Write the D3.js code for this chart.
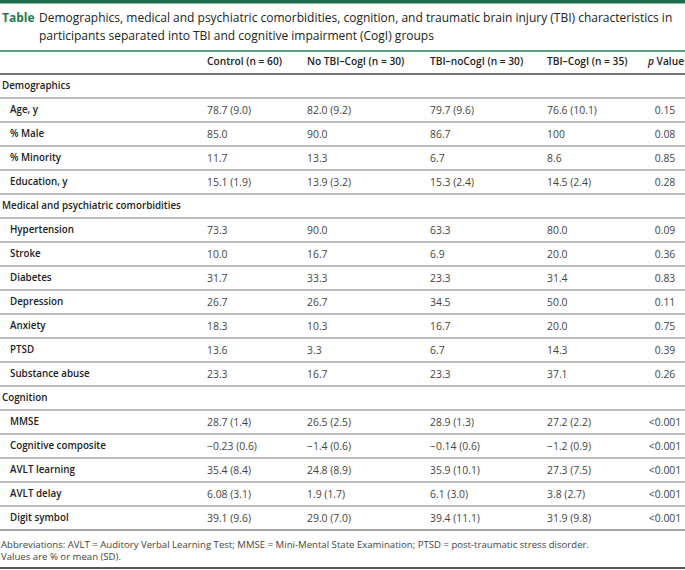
<!DOCTYPE html>
<html>
<head>
<meta charset="utf-8">
<script src="https://cdn.jsdelivr.net/npm/d3@7"></script>
<style>
  body { margin: 0; background: #fff; }
  text { font-family: "Open Sans", "Noto Sans", sans-serif; }
</style>
</head>
<body>
<div id="canvas"></div>
<script>
// table content
const titleLines = [
  "Demographics, medical and psychiatric comorbidities, cognition, and traumatic brain injury (TBI) characteristics in",
  "participants separated into TBI and cognitive impairment (CogI) groups"
];
const columns = ["Control (n = 60)", "No TBI–CogI (n = 30)", "TBI–noCogI (n = 30)", "TBI–CogI (n = 35)"];
const sections = ["Demographics", "Medical and psychiatric comorbidities", "Cognition"];
const rowLabels = [
  ["Age, y", "% Male", "% Minority", "Education, y"],
  ["Hypertension", "Stroke", "Diabetes", "Depression", "Anxiety", "PTSD", "Substance abuse"],
  ["MMSE", "Cognitive composite", "AVLT learning", "AVLT delay", "Digit symbol"]
];
const control = ["78.7 (9.0)", "85.0", "11.7", "15.1 (1.9)",
  "73.3", "10.0", "31.7", "26.7", "18.3", "13.6", "23.3",
  "28.7 (1.4)", "−0.23 (0.6)", "35.4 (8.4)", "6.08 (3.1)", "39.1 (9.6)"];
const noTbiCogI = ["82.0 (9.2)", "90.0", "13.3", "13.9 (3.2)",
  "90.0", "16.7", "33.3", "26.7", "10.3", "3.3", "16.7",
  "26.5 (2.5)", "−1.4 (0.6)", "24.8 (8.9)", "1.9 (1.7)", "29.0 (7.0)"];
const tbiNoCogI = ["79.7 (9.6)", "86.7", "6.7", "15.3 (2.4)",
  "63.3", "6.9", "23.3", "34.5", "16.7", "6.7", "23.3",
  "28.9 (1.3)", "−0.14 (0.6)", "35.9 (10.1)", "6.1 (3.0)", "39.4 (11.1)"];
const tbiCogI = ["76.6 (10.1)", "100", "8.6", "14.5 (2.4)",
  "80.0", "20.0", "31.4", "50.0", "20.0", "14.3", "37.1",
  "27.2 (2.2)", "−1.2 (0.9)", "27.3 (7.5)", "3.8 (2.7)", "31.9 (9.8)"];
const pValues = ["0.15", "0.08", "0.85", "0.28",
  "0.09", "0.36", "0.83", "0.11", "0.75", "0.39", "0.26",
  "<0.001", "<0.001", "<0.001", "<0.001", "<0.001"];
const footnotes = [
  "Abbreviations: AVLT = Auditory Verbal Learning Test; MMSE = Mini-Mental State Examination; PTSD = post-traumatic stress disorder.",
  "Values are % or mean (SD)."
];

let width = 685
let height = 570
let rowH = 24
let tableTop = 74
let pX = 665   // p value column is centred here

// flatten sections + rows into one list of table rows
let rows = []
let k = 0
sections.forEach((s, si) => {
  rows.push({ section: true, label: s })
  rowLabels[si].forEach(l => {
    rows.push({ section: false, label: l, vals: [control[k], noTbiCogI[k], tbiNoCogI[k], tbiCogI[k]], p: pValues[k] })
    k++
  })
})

let y = d3.scaleBand()
    .domain(d3.range(rows.length))
    .range([tableTop, tableTop + rows.length * rowH])

let x = d3.scaleOrdinal()
    .domain(columns)
    .range([207, 307, 430, 547])

let svg = d3.select('#canvas')
    .append('svg')
    .attr('width', width)
    .attr('height', height)

// top bar
svg.append('rect')
    .attr('x', 0).attr('y', 0)
    .attr('width', width).attr('height', 3.5)
    .attr('fill', '#1b6b4c')

// title
let title = svg.append('text')
    .attr('y', 22)
    .attr('font-size', '12px')
    .attr('fill', '#222')
title.append('tspan')
    .attr('x', 2)
    .attr('font-weight', 700)
    .attr('fill', '#1e7a55')
    .text('Table')
title.append('tspan')
    .attr('x', 39)
    .text(titleLines[0])
svg.append('text')
    .attr('x', 39)
    .attr('y', 40)
    .attr('font-size', '12px')
    .attr('fill', '#222')
    .text(titleLines[1])

svg.append('line')
    .attr('x1', 0).attr('x2', width)
    .attr('y1', 51).attr('y2', 51)
    .attr('stroke', '#5c9c7f')
    .attr('stroke-width', 2)

// header
svg.selectAll('.colhead')
    .data(columns)
    .join('text')
    .attr('class', 'colhead')
    .attr('x', d => x(d))
    .attr('y', 61)
    .attr('dy', '0.35em')
    .attr('font-size', '10.2px')
    .attr('font-weight', 600)
    .attr('fill', '#222')
    .text(d => d)

let ph = svg.append('text')
    .attr('x', pX + 1)
    .attr('y', 61)
    .attr('dy', '0.35em')
    .attr('text-anchor', 'middle')
    .attr('font-size', '10.2px')
    .attr('font-weight', 600)
    .attr('fill', '#222')
ph.append('tspan').attr('font-style', 'italic').text('p')
ph.append('tspan').text(' Value')

svg.append('line')
    .attr('x1', 0).attr('x2', width)
    .attr('y1', tableTop).attr('y2', tableTop)
    .attr('stroke', '#777')
    .attr('stroke-width', 2)

// rows
let row = svg.selectAll('.row')
    .data(rows)
    .join('g')
    .attr('class', 'row')
    .attr('transform', (d, i) => `translate(0,${y(i)})`)

row.append('line')
    .attr('x1', 0).attr('x2', width)
    .attr('y1', rowH).attr('y2', rowH)
    .attr('stroke', (d, i) => i === rows.length - 1 ? '#888' : '#aaa')
    .attr('stroke-width', 1.5)

row.append('text')
    .attr('x', d => d.section ? 2 : 10)
    .attr('y', rowH / 2)
    .attr('dy', '0.35em')
    .attr('font-size', '9.8px')
    .attr('font-weight', 600)
    .attr('fill', '#222')
    .text(d => d.label)

row.filter(d => !d.section).selectAll('.val')
    .data(d => d.vals)
    .join('text')
    .attr('class', 'val')
    .attr('x', (d, i) => x(columns[i]))
    .attr('y', rowH / 2)
    .attr('dy', '0.35em')
    .attr('font-size', '10.4px')
    .attr('fill', '#444')
    .text(d => d)

row.filter(d => !d.section).append('text')
    .attr('x', pX)
    .attr('y', rowH / 2)
    .attr('dy', '0.35em')
    .attr('text-anchor', 'middle')
    .attr('font-size', '10.4px')
    .attr('fill', '#444')
    .text(d => d.p)

// footnotes
svg.selectAll('.foot')
    .data(footnotes)
    .join('text')
    .attr('class', 'foot')
    .attr('x', 1)
    .attr('y', (d, i) => 545 + i * 12)
    .attr('dy', '0.35em')
    .attr('font-size', '9.6px')
    .attr('fill', '#444')
    .text(d => d)

svg.append('line')
    .attr('x1', 0).attr('x2', width)
    .attr('y1', 568).attr('y2', 568)
    .attr('stroke', '#555')
    .attr('stroke-width', 2)
</script>
</body>
</html>
